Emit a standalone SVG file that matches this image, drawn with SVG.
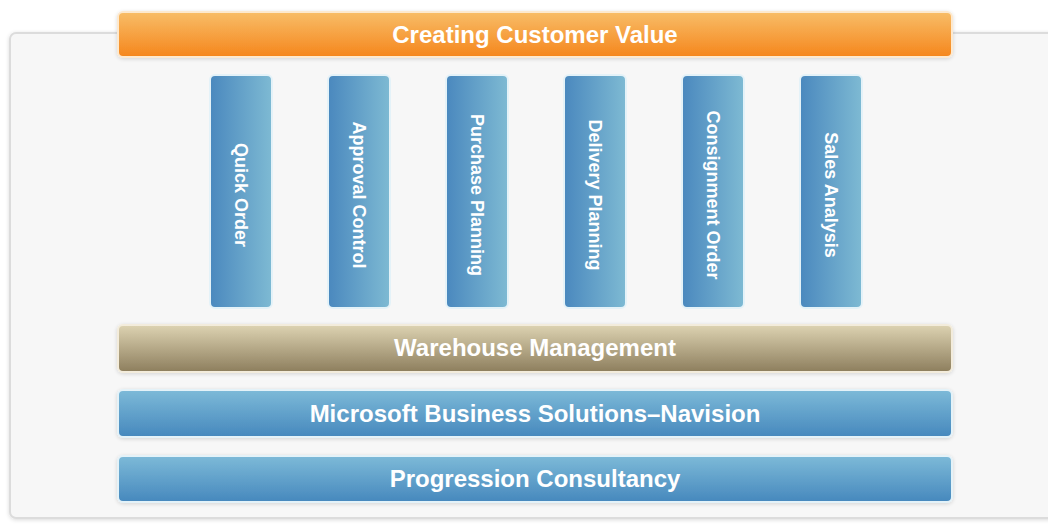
<svg xmlns="http://www.w3.org/2000/svg" width="1048" height="530" viewBox="0 0 1048 530">
<defs>
<linearGradient id="gOrange" x1="0" y1="0" x2="0" y2="1"><stop offset="0" stop-color="#f8bd68"/><stop offset="1" stop-color="#f5861c"/></linearGradient>
<linearGradient id="gTan" x1="0" y1="0" x2="0" y2="1"><stop offset="0" stop-color="#ddd3b2"/><stop offset="1" stop-color="#8d7e5d"/></linearGradient>
<linearGradient id="gBlueH" x1="0" y1="0" x2="0" y2="1"><stop offset="0" stop-color="#7dbad8"/><stop offset="1" stop-color="#4688bd"/></linearGradient>
<linearGradient id="gBlueV" x1="0" y1="0" x2="1" y2="0"><stop offset="0" stop-color="#4a88be"/><stop offset="1" stop-color="#7ebad3"/></linearGradient>
<filter id="sh" x="-10%" y="-10%" width="120%" height="130%"><feGaussianBlur in="SourceAlpha" stdDeviation="2"/><feOffset dy="1"/><feComponentTransfer><feFuncA type="linear" slope="0.15"/></feComponentTransfer><feMerge><feMergeNode/><feMergeNode in="SourceGraphic"/></feMerge></filter>
</defs>
<style>
.bar{stroke:#e4f2f8;stroke-width:2}
.orange{stroke:#fde9cf;stroke-width:2}
.tan{stroke:#f3ecdc;stroke-width:2}
.lbl{font-family:"Liberation Sans",Arial,sans-serif;font-weight:bold;font-size:24px;fill:#ffffff;text-anchor:middle}
.vlbl{font-family:"Liberation Sans",Arial,sans-serif;font-weight:bold;font-size:18px;fill:#ffffff;text-anchor:middle;dominant-baseline:central}
</style>
<rect x="0" y="0" width="1048" height="530" fill="#ffffff"/>
<g id="frame">
<rect x="10" y="33" width="1060" height="485" rx="6" fill="#f7f7f7" stroke="#dcdcdc" stroke-width="2" filter="url(#sh)"/>
</g>
<g id="connectors"/>
<g id="creating-customer-value">
<rect x="118" y="12" width="834" height="45" rx="5" fill="url(#gOrange)" class="orange" filter="url(#sh)"/>
<text class="lbl" x="535" y="43">Creating Customer Value</text>
</g>
<g id="quick-order">
<rect x="210" y="75" width="62" height="233" rx="5" fill="url(#gBlueV)" class="bar"/>
<text class="vlbl" transform="translate(241 195) rotate(90)">Quick Order</text>
</g>
<g id="approval-control">
<rect x="328" y="75" width="62" height="233" rx="5" fill="url(#gBlueV)" class="bar"/>
<text class="vlbl" transform="translate(359 195) rotate(90)">Approval Control</text>
</g>
<g id="purchase-planning">
<rect x="446" y="75" width="62" height="233" rx="5" fill="url(#gBlueV)" class="bar"/>
<text class="vlbl" transform="translate(477 195) rotate(90)">Purchase Planning</text>
</g>
<g id="delivery-planning">
<rect x="564" y="75" width="62" height="233" rx="5" fill="url(#gBlueV)" class="bar"/>
<text class="vlbl" transform="translate(595 195) rotate(90)">Delivery Planning</text>
</g>
<g id="consignment-order">
<rect x="682" y="75" width="62" height="233" rx="5" fill="url(#gBlueV)" class="bar"/>
<text class="vlbl" transform="translate(713 195) rotate(90)">Consignment Order</text>
</g>
<g id="sales-analysis">
<rect x="800" y="75" width="62" height="233" rx="5" fill="url(#gBlueV)" class="bar"/>
<text class="vlbl" transform="translate(831 195) rotate(90)">Sales Analysis</text>
</g>
<g id="warehouse-management">
<rect x="118" y="325" width="834" height="47" rx="5" fill="url(#gTan)" class="tan" filter="url(#sh)"/>
<text class="lbl" x="535" y="356">Warehouse Management</text>
</g>
<g id="navision">
<rect x="118" y="390" width="834" height="47" rx="5" fill="url(#gBlueH)" class="bar" filter="url(#sh)"/>
<text class="lbl" x="535" y="422">Microsoft Business Solutions–Navision</text>
</g>
<g id="progression-consultancy">
<rect x="118" y="456" width="834" height="46" rx="5" fill="url(#gBlueH)" class="bar" filter="url(#sh)"/>
<text class="lbl" x="535" y="487">Progression Consultancy</text>
</g>
</svg>
